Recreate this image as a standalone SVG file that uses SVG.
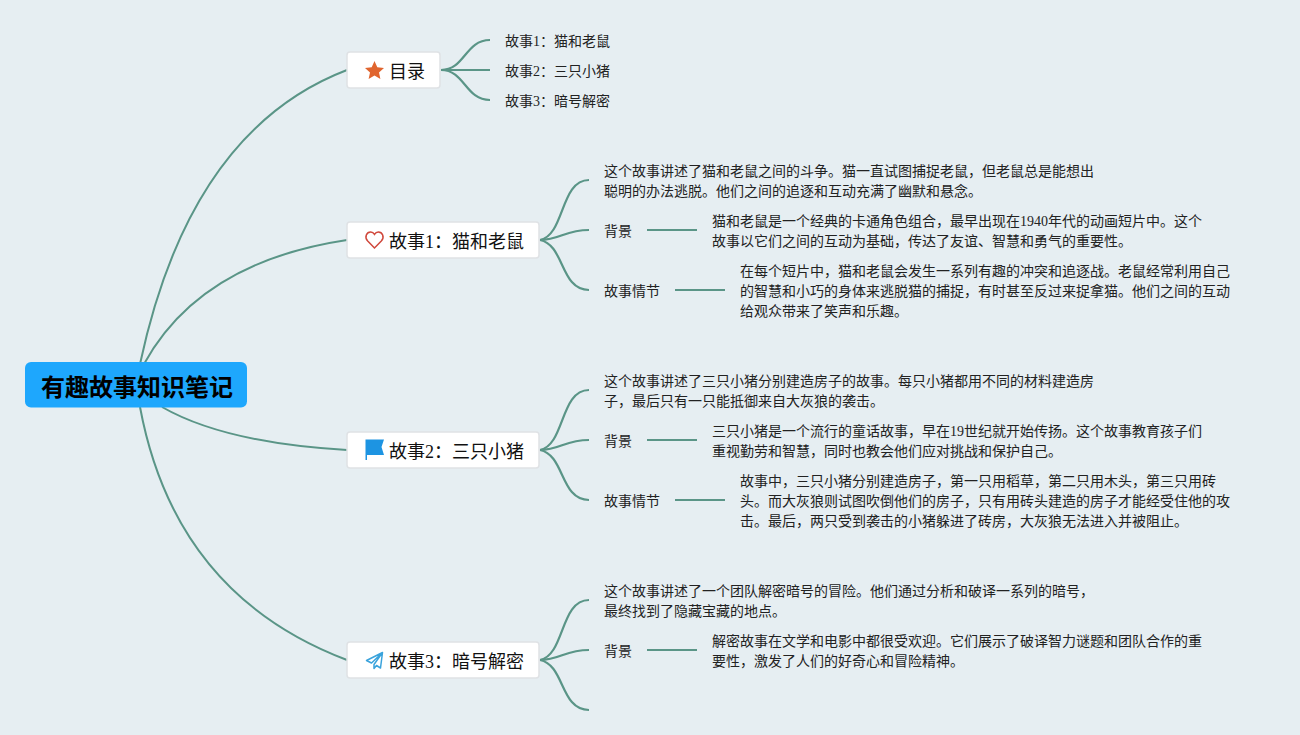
<svg xmlns="http://www.w3.org/2000/svg" width="1300" height="735" viewBox="0 0 1300 735">
<style>
text{font-family:"Liberation Serif","Noto Sans CJK SC",serif;fill:#111}
.t{font-size:14px;fill:#222}
.n{font-size:18px}
.box{fill:#fff;stroke:#dfe2e5;stroke-width:1.5}
.c{fill:none;stroke:#5a9587;stroke-width:2.2}
.m{fill:none;stroke:#5a9587;stroke-width:2}
.r{font-size:24px;font-weight:bold;fill:#000}
</style>
<rect width="1300" height="735" fill="#e6eef2"/>
<g id="connectors">
<path class="m" d="M140 364Q190 130 347 70"/>
<path class="m" d="M144 364Q200 262 347 240"/>
<path class="m" d="M162 407Q225 443 347 450"/>
<path class="m" d="M140 407Q175 595 347 660"/>
<path class="c" d="M441 70C465 70 465 40 490 40"/>
<path class="c" d="M441 70H490"/>
<path class="c" d="M441 70C465 70 465 100 490 100"/>
<path class="c" d="M540 240C565 235 560 180 589 180"/>
<path class="c" d="M540 240C560 240 565 230 589 230"/>
<path class="c" d="M540 240C565 245 560 290 589 290"/>
<path class="c" d="M647 230H697"/>
<path class="c" d="M675 290H725"/>
<path class="c" d="M540 450C565 445 560 390 589 390"/>
<path class="c" d="M540 450C560 450 565 440 589 440"/>
<path class="c" d="M540 450C565 455 560 500 589 500"/>
<path class="c" d="M647 440H697"/>
<path class="c" d="M675 500H725"/>
<path class="c" d="M540 660C565 655 560 600 589 600"/>
<path class="c" d="M540 660C560 660 565 650 589 650"/>
<path class="c" d="M540 660C565 665 560 710 589 710"/>
<path class="c" d="M647 650H697"/>
</g>
<g id="root">
<rect x="25" y="362" width="222" height="45.500" rx="6" fill="#1ea7fd"/>
<text class="r" x="41" y="396">有趣故事知识笔记</text>
</g>
<g id="node-toc">
<rect class="box" x="347" y="52" width="93" height="36" rx="3"/>
<path d="M374.500 61l2.800 6.200 6.700.7-5 4.500 1.400 6.600-5.900-3.400-5.900 3.400 1.400-6.600-5-4.500 6.700-.7z" fill="#e0652f"/>
<text class="n" x="389" y="78">目录</text>
</g>
<g id="node-story1">
<rect class="box" x="347" y="222" width="192" height="36" rx="3"/>
<path d="M374.500 248l-6.800-7c-3.700-4-1-9 3-9 1.800 0 3 1 3.800 2.300.8-1.300 2-2.300 3.800-2.300 4 0 6.700 5 3 9z" fill="none" stroke="#d0483c" stroke-width="1.500"/>
<text class="n" x="389" y="248">故事1：猫和老鼠</text>
</g>
<g id="node-story2">
<rect class="box" x="347" y="432" width="192" height="36" rx="3"/>
<path d="M365.500 439.500H384l-2.500 7.500 2.500 8h-17v5h-1.500z" fill="#1d94e2"/>
<text class="n" x="389" y="458">故事2：三只小猪</text>
</g>
<g id="node-story3">
<rect class="box" x="347" y="642" width="192" height="36" rx="3"/>
<path d="M382.500 652.500l-16 8 5 2.500 11-10.500-8.500 12 0 4 2.500-3 4 2.500z" fill="none" stroke="#3aa3dc" stroke-width="1.500" stroke-linejoin="round"/>
<text class="n" x="389" y="668">故事3：暗号解密</text>
</g>
<g id="toc-items">
<text class="t" x="505" y="46">故事1：猫和老鼠</text>
<text class="t" x="505" y="76">故事2：三只小猪</text>
<text class="t" x="505" y="106">故事3：暗号解密</text>
</g>
<g id="story1-details">
<text class="t" x="604" y="176">这个故事讲述了猫和老鼠之间的斗争。猫一直试图捕捉老鼠，但老鼠总是能想出</text>
<text class="t" x="604" y="196">聪明的办法逃脱。他们之间的追逐和互动充满了幽默和悬念。</text>
<text class="t" x="604" y="236">背景</text>
<text class="t" x="712" y="226">猫和老鼠是一个经典的卡通角色组合，最早出现在1940年代的动画短片中。这个</text>
<text class="t" x="712" y="246">故事以它们之间的互动为基础，传达了友谊、智慧和勇气的重要性。</text>
<text class="t" x="604" y="296">故事情节</text>
<text class="t" x="740" y="276">在每个短片中，猫和老鼠会发生一系列有趣的冲突和追逐战。老鼠经常利用自己</text>
<text class="t" x="740" y="296">的智慧和小巧的身体来逃脱猫的捕捉，有时甚至反过来捉拿猫。他们之间的互动</text>
<text class="t" x="740" y="316">给观众带来了笑声和乐趣。</text>
</g>
<g id="story2-details">
<text class="t" x="604" y="386">这个故事讲述了三只小猪分别建造房子的故事。每只小猪都用不同的材料建造房</text>
<text class="t" x="604" y="406">子，最后只有一只能抵御来自大灰狼的袭击。</text>
<text class="t" x="604" y="446">背景</text>
<text class="t" x="712" y="436">三只小猪是一个流行的童话故事，早在19世纪就开始传扬。这个故事教育孩子们</text>
<text class="t" x="712" y="456">重视勤劳和智慧，同时也教会他们应对挑战和保护自己。</text>
<text class="t" x="604" y="506">故事情节</text>
<text class="t" x="740" y="486">故事中，三只小猪分别建造房子，第一只用稻草，第二只用木头，第三只用砖</text>
<text class="t" x="740" y="506">头。而大灰狼则试图吹倒他们的房子，只有用砖头建造的房子才能经受住他的攻</text>
<text class="t" x="740" y="526">击。最后，两只受到袭击的小猪躲进了砖房，大灰狼无法进入并被阻止。</text>
</g>
<g id="story3-details">
<text class="t" x="604" y="596">这个故事讲述了一个团队解密暗号的冒险。他们通过分析和破译一系列的暗号，</text>
<text class="t" x="604" y="616">最终找到了隐藏宝藏的地点。</text>
<text class="t" x="604" y="656">背景</text>
<text class="t" x="712" y="646">解密故事在文学和电影中都很受欢迎。它们展示了破译智力谜题和团队合作的重</text>
<text class="t" x="712" y="666">要性，激发了人们的好奇心和冒险精神。</text>
</g>
</svg>
